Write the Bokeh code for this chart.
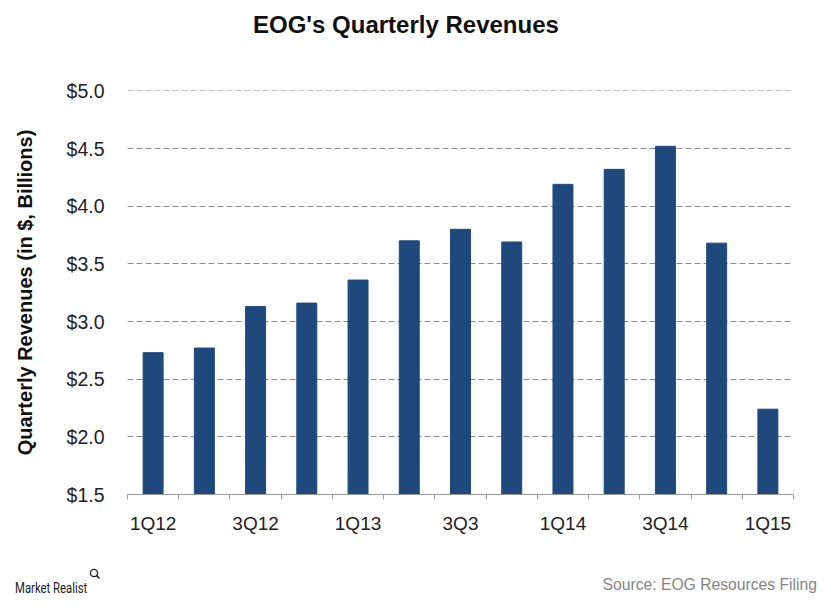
from bokeh.plotting import figure
from bokeh.layouts import column
from bokeh.models import ColumnDataSource, FixedTicker, Range1d, NumeralTickFormatter, Div
from bokeh.embed import file_html
from bokeh.resources import INLINE

quarters = ["1Q12", "2Q12", "3Q12", "4Q12", "1Q13", "2Q13", "3Q3", "4Q13",
            "1Q14", "2Q14", "3Q14", "4Q14", "1Q15"]
revenues = [2.73, 2.77, 3.13, 3.16, 3.36, 3.70, 3.80, 3.69, 4.19, 4.32, 4.52, 3.68, 2.24]
shown_labels = ["1Q12", "3Q12", "1Q13", "3Q3", "1Q14", "3Q14", "1Q15"]
y_ticks = [1.5, 2.0, 2.5, 3.0, 3.5, 4.0, 4.5, 5.0]

title_text = "EOG's Quarterly Revenues"
brand_text = "Market Realist"
source_text = "Source: EOG Resources Filing"

FONT = "Liberation Sans"
W = 824
HEAD_H, H, FOOT_H = 40, 500, 59
LEFT, TOP, RIGHT, BOTTOM = 127, 50, 31, 46

xs = [i + 0.5 for i in range(len(quarters))]
src = ColumnDataSource(dict(x=xs, top=revenues, q=quarters))

header = Div(width=W, height=HEAD_H, margin=0, text=(
    f'<div style="position:relative;width:{W}px;height:{HEAD_H}px;margin:0;padding:0;">'
    f'<span style="position:absolute;left:253px;top:11px;line-height:28px;font-family:\'Liberation Sans\';'
    f'font-size:24px;font-weight:bold;color:#111111;white-space:nowrap;">{title_text}</span>'
    '</div>'))

p = figure(width=W, height=H, output_backend="svg", toolbar_location=None,
           x_range=Range1d(0, len(quarters)), y_range=Range1d(1.5, 5.004),
           min_border_left=LEFT, min_border_right=RIGHT, min_border_top=TOP, min_border_bottom=BOTTOM)
p.outline_line_color = None
p.background_fill_color = "white"
p.border_fill_color = "white"

p.vbar(x="x", top="top", bottom=1.5, width=0.39, source=src, color="#1F497D")

label_pos = [xs[quarters.index(q)] for q in shown_labels]
xt = FixedTicker(ticks=label_pos, minor_ticks=list(range(len(quarters) + 1)))
p.xaxis.ticker = xt
p.xaxis.major_label_overrides = {xs[quarters.index(q)]: q for q in shown_labels}
p.xaxis.major_tick_line_color = None
p.xaxis.minor_tick_in = 0
p.xaxis.minor_tick_out = 5
p.xaxis.minor_tick_line_color = "#999999"
p.xaxis.axis_line_color = "#999999"
p.xaxis.major_label_text_font = FONT
p.xaxis.major_label_text_font_size = "19px"
p.xaxis.major_label_text_color = "#222222"
p.xaxis.major_label_standoff = 12

p.yaxis.ticker = FixedTicker(ticks=y_ticks)
p.yaxis.formatter = NumeralTickFormatter(format="$0.0")
p.yaxis.axis_line_color = None
p.yaxis.major_tick_line_color = None
p.yaxis.minor_tick_line_color = None
p.yaxis.major_label_text_font = FONT
p.yaxis.major_label_text_font_size = "19.5px"
p.yaxis.major_label_text_color = "#222222"
p.yaxis.major_label_standoff = 17
p.yaxis.axis_label = "Quarterly Revenues (in $, Billions)"
p.yaxis.axis_label_text_font = FONT
p.yaxis.axis_label_text_font_size = "20px"
p.yaxis.axis_label_text_font_style = "bold"
p.yaxis.axis_label_text_color = "#111111"
p.yaxis.axis_label_standoff = 28

p.xgrid.grid_line_color = None
p.ygrid.grid_line_color = "#8C8C8C"
p.ygrid.grid_line_dash = "6 3"
p.ygrid.grid_line_width = 1

icon = ('<svg style="position:absolute;left:89px;top:28px;" width="12" height="12" viewBox="0 0 12 12">'
        '<circle cx="5" cy="5" r="3.6" fill="none" stroke="#222222" stroke-width="1.4"/>'
        '<line x1="7.6" y1="7.6" x2="10.5" y2="10.5" stroke="#222222" stroke-width="1.6"/></svg>')
footer = Div(width=W, height=FOOT_H, margin=0, text=(
    f'<div style="position:relative;width:{W}px;height:{FOOT_H}px;margin:0;padding:0;">'
    f'<span style="position:absolute;left:15px;top:38px;line-height:20px;font-family:Roboto;'
    f'font-size:14px;color:#222222;white-space:nowrap;display:inline-block;'
    f'transform:scaleX(0.81);transform-origin:0 50%;">{brand_text}</span>'
    f'{icon}'
    f'<span style="position:absolute;right:7px;top:35px;line-height:20px;font-family:\'Liberation Sans\';'
    f'font-size:15.7px;color:#858585;white-space:nowrap;">{source_text}</span>'
    '</div>'))

layout = column(header, p, footer, spacing=0)
open("out.html", "w").write(file_html(layout, INLINE))
